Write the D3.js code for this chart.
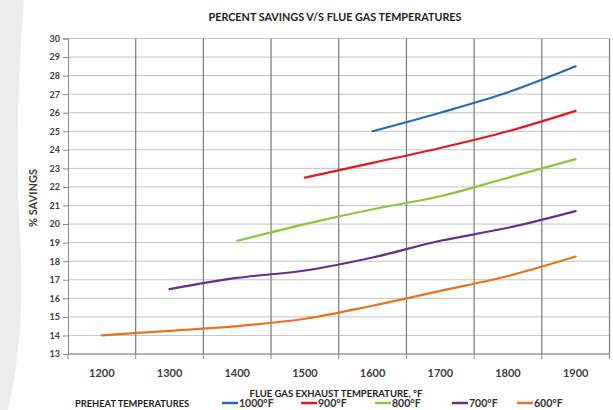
<!DOCTYPE html>
<html>
<head>
<meta charset="utf-8">
<script src="https://cdn.jsdelivr.net/npm/d3@7"></script>
<style>
  body { margin: 0; background: #fff; }
  svg { display: block; font-family: Lato, "Open Sans", sans-serif; }
</style>
</head>
<body>
<svg id="chart"></svg>
<script>
// flue gas temps on x axis (category axis, like the excel original)
const temps = [1200, 1300, 1400, 1500, 1600, 1700, 1800, 1900]
const yTicks = d3.range(13, 31)

// one array per preheat temperature, [flue temp, % savings]
const s1000 = [[1600, 25.0], [1700, 26.0], [1800, 27.1], [1900, 28.5]]
const s900 = [[1500, 22.5], [1600, 23.3], [1700, 24.1], [1800, 25.0], [1900, 26.1]]
const s800 = [[1400, 19.1], [1500, 20.0], [1600, 20.8], [1700, 21.5], [1800, 22.5], [1900, 23.5]]
const s700 = [[1300, 16.5], [1400, 17.1], [1500, 17.5], [1600, 18.2], [1700, 19.1], [1800, 19.8], [1900, 20.7]]
const s600 = [[1200, 14.0], [1300, 14.25], [1400, 14.5], [1500, 14.9], [1600, 15.6], [1700, 16.4], [1800, 17.2], [1900, 18.25]]

const seriesNames = ['1000°F', '900°F', '800°F', '700°F', '600°F']
const seriesColors = ['#1f6fb5', '#e3191f', '#8cc63f', '#6a2c91', '#e8731e']
const allSeries = [s1000, s900, s800, s700, s600]

const w = 613
const h = 410

const svg = d3.select('#chart')
    .attr('width', w)
    .attr('height', h)

// faint grey watermark on the left edge of the original scan
svg.append('path')
    .attr('d', 'M0,0 L24,0 Q14,120 20,240 Q26,330 8,410 L0,410 Z')
    .attr('fill', '#ececec')

const xScale = d3.scaleBand()
    .domain(temps)
    .range([68, 609.5])
const bw = xScale.bandwidth()
const cx = d => xScale(d) + bw / 2

const yScale = d3.scaleLinear()
    .domain([13, 30])
    .range([354, 38.5])

// horizontal grid
svg.append('g')
    .selectAll('line')
    .data(yTicks)
    .enter()
    .append('line')
    .attr('x1', 68)
    .attr('x2', 609.5)
    .attr('y1', d => yScale(d))
    .attr('y2', d => yScale(d))
    .attr('stroke', '#c4c4c4')
    .attr('stroke-width', 1)

// vertical grid on the band edges
svg.append('g')
    .selectAll('line')
    .data(temps)
    .enter()
    .append('line')
    .attr('x1', d => xScale(d) + bw)
    .attr('x2', d => xScale(d) + bw)
    .attr('y1', yScale(30))
    .attr('y2', yScale(13))
    .attr('stroke', '#7a7a7a')
    .attr('stroke-width', 1.2)

// y axis
const yAxis = d3.axisLeft(yScale)
    .tickValues(yTicks)
    .tickSize(5)
    .tickPadding(3)
    .tickFormat(d3.format('d'))
const gy = svg.append('g')
    .attr('transform', 'translate(68,0)')
    .call(yAxis)
gy.select('.domain').attr('stroke', '#8a8a8a')
gy.selectAll('.tick line').attr('stroke', '#8a8a8a')
gy.selectAll('text')
    .attr('fill', '#404040')
    .style('font-size', '9px')
    .style('font-weight', 'bold')
    .style('font-family', 'Lato, sans-serif')

// x axis, ticks sit between the categories
const gx = svg.append('g')
    .attr('transform', `translate(0, ${yScale(13)})`)
gx.append('line')
    .attr('x1', 68)
    .attr('x2', 609.5)
    .attr('stroke', '#8a8a8a')
gx.selectAll('.tk')
    .data([temps[0]].concat(temps))
    .enter()
    .append('line')
    .attr('class', 'tk')
    .attr('x1', (d, i) => i == 0 ? xScale(d) : xScale(d) + bw)
    .attr('x2', (d, i) => i == 0 ? xScale(d) : xScale(d) + bw)
    .attr('y1', 0)
    .attr('y2', 5)
    .attr('stroke', '#8a8a8a')
gx.selectAll('text')
    .data(temps)
    .enter()
    .append('text')
    .attr('x', d => cx(d))
    .attr('y', 23)
    .attr('text-anchor', 'middle')
    .attr('fill', '#404040')
    .style('font-size', '11px')
    .style('font-weight', 'bold')
    .text(d => d)

// lines
const line = d3.line()
    .x(d => cx(d[0]))
    .y(d => yScale(d[1]))
    .curve(d3.curveCatmullRom.alpha(0.5))

svg.append('g')
    .selectAll('path')
    .data(allSeries)
    .enter()
    .append('path')
    .attr('d', d => line(d))
    .attr('fill', 'none')
    .attr('stroke', (d, i) => seriesColors[i])
    .attr('stroke-width', 2.2)
    .attr('stroke-linecap', 'round')

// titles
svg.append('text')
    .attr('x', 335)
    .attr('y', 21)
    .attr('text-anchor', 'middle')
    .attr('fill', '#222')
    .style('font-size', '10.8px')
    .style('font-weight', 'bold')
    .text('PERCENT SAVINGS V/S FLUE GAS TEMPERATURES')

svg.append('text')
    .attr('transform', 'translate(37, 198) rotate(-90)')
    .attr('text-anchor', 'middle')
    .attr('fill', '#404040')
    .style('font-size', '11px')
    .style('font-weight', 'bold')
    .text('% SAVINGS')

svg.append('text')
    .attr('x', 336)
    .attr('y', 396.5)
    .attr('text-anchor', 'middle')
    .attr('fill', '#222')
    .style('font-size', '9.5px')
    .style('font-weight', 'bold')
    .text('FLUE GAS EXHAUST TEMPERATURE, °F')

// legend
svg.append('text')
    .attr('x', 75)
    .attr('y', 406.5)
    .attr('fill', '#222')
    .style('font-size', '9.3px')
    .style('font-weight', 'bold')
    .text('PREHEAT TEMPERATURES')

const legendX = [222, 301, 375, 452, 517]
const lg = svg.append('g')
    .selectAll('g')
    .data(seriesNames)
    .enter()
    .append('g')
    .attr('transform', (d, i) => `translate(${legendX[i]}, 403)`)
lg.append('line')
    .attr('x1', 0)
    .attr('x2', 16)
    .attr('stroke', (d, i) => seriesColors[i])
    .attr('stroke-width', 2.5)
lg.append('text')
    .attr('x', 17)
    .attr('y', 4)
    .attr('fill', '#333')
    .style('font-size', '10.5px')
    .style('font-weight', 'bold')
    .text(d => d)
</script>
</body>
</html>
